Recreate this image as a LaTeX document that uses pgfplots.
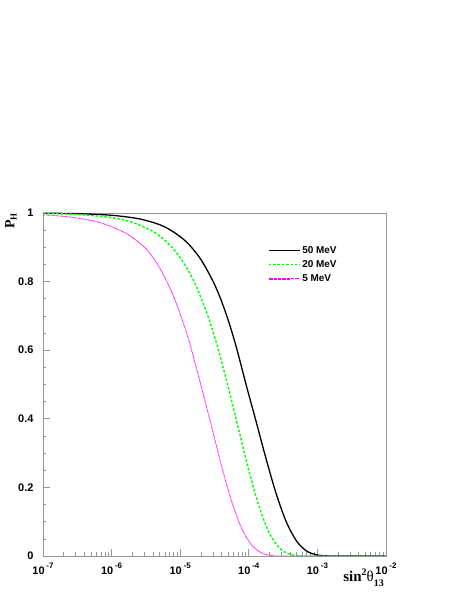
\documentclass[border=0pt]{standalone}
\usepackage{pgfplots}
\pgfplotsset{compat=1.18}
\usepackage{fontspec}
\setmainfont{Liberation Sans}
\newfontfamily\timesf{Liberation Serif}
\definecolor{rootgreen}{RGB}{0,255,0}
\definecolor{rootmagenta}{RGB}{255,0,255}
\definecolor{framegray}{RGB}{150,150,150}
\newcommand{\dec}[1]{\textbf{10}\,\raisebox{1.1ex}{\fontsize{8}{9}\selectfont\textbf{#1}}}
\begin{document}
\begin{tikzpicture}
\path[use as bounding box] (-43bp,-43bp) rectangle (420bp,556bp);
\begin{axis}[
  name=ax,
  scale only axis,
  width=343bp, height=343bp,
  xmode=log,
  xmin=1e-7, xmax=1e-2, ymin=0, ymax=1,
  xtick={1e-7,1e-6,1e-5,1e-4,1e-3,1e-2},
  xticklabels={\dec{-7},\dec{-6},\dec{-5},\dec{-4},\dec{-3},\dec{-2}},
  ytick={0,0.2,0.4,0.6,0.8,1},
  yticklabels={\textbf{0},\textbf{0.2},\textbf{0.4},\textbf{0.6},\textbf{0.8},\textbf{1}},
  minor y tick num=3,
  tick pos=left,
  tick align=inside,
  major tick length=7bp, minor tick length=3.5bp,
  every tick/.style={framegray, line width=0.6pt},
  axis line style={framegray, line width=0.8pt},
  ticklabel style={font=\fontsize{11}{13}\selectfont},
  xticklabel style={yshift=-3bp},
  yticklabel style={xshift=-6bp},
  legend style={draw=none, fill=none, at={(rel axis cs:0.655,0.9095)}, anchor=north west,
    font=\fontsize{10}{12}\selectfont\bfseries, inner sep=0pt, row sep=1.8bp},
  legend cell align=left,
  legend image code/.code={\draw[#1, line width=1.5pt] (0bp,0bp) -- (22bp,0bp); \path (0bp,0bp) -- (31bp,0bp);},
]
% 50 MeV
\addplot[black, line width=1.3pt, smooth, tension=0.5] coordinates {
  (1e-7,0.9994) (3.162e-7,0.998) (1e-6,0.9934) (2.512e-6,0.983) (5.012e-6,0.966)
  (7.943e-6,0.945) (1.259e-5,0.914) (1.995e-5,0.865) (3.162e-5,0.792) (4.467e-5,0.717)
  (6.310e-5,0.622) (9.120e-5,0.500) (1.259e-4,0.397) (1.778e-4,0.285) (2.512e-4,0.181)
  (3.548e-4,0.098) (5.012e-4,0.0424) (7.079e-4,0.0136) (1e-3,0.0029) (1.413e-3,0.0004)
  (1.995e-3,0) (1e-2,0)
};
\addlegendentry{50 MeV}
% 20 MeV
\addplot[rootgreen, line width=1.4pt, dash pattern=on 2.6pt off 1.8pt, smooth, tension=0.5] coordinates {
  (1e-7,0.9987) (3.162e-7,0.9958) (1e-6,0.9865) (1.995e-6,0.973) (3.981e-6,0.9465)
  (6.310e-6,0.916) (1e-5,0.870) (1.585e-5,0.801) (2.512e-5,0.702) (3.548e-5,0.606)
  (4.898e-5,0.500) (7.079e-5,0.371) (1e-4,0.250) (1.413e-4,0.144) (1.995e-4,0.0667)
  (2.818e-4,0.0227) (3.981e-4,0.0050) (5.623e-4,0.0006) (7.943e-4,0) (1e-2,0)
};
\addlegendentry{20 MeV}
% 5 MeV
\addplot[rootmagenta, line width=0.9pt, dash pattern=on 0.7pt off 0.6pt, smooth, tension=0.5] coordinates {
  (1e-7,0.9948) (2.512e-7,0.988) (6.310e-7,0.9737) (1.585e-6,0.942) (3.162e-6,0.896)
  (5.012e-6,0.840) (7.943e-6,0.759) (1.259e-5,0.646) (1.995e-5,0.500) (2.818e-5,0.383)
  (3.981e-5,0.265) (5.623e-5,0.159) (7.943e-5,0.0788) (1.122e-4,0.0297) (1.585e-4,0.0077)
  (2.239e-4,0.0012) (3.162e-4,0) (1e-2,0)
};
\addlegendentry{5 MeV}
\end{axis}
\node[rotate=90, anchor=center, font=\fontsize{14}{16}\selectfont\timesf\bfseries]
  at ([xshift=-32bp, yshift=-8bp]ax.north west) {P\raisebox{-0.35ex}{\fontsize{9}{10}\selectfont H}};
\node[anchor=north east, inner sep=0pt, font=\fontsize{15}{17}\selectfont\timesf]
  at ([xshift=-2bp, yshift=-13bp]ax.south east)
  {\textbf{sin}\raisebox{0.9ex}{\fontsize{10}{11}\selectfont\textbf{2}}θ\raisebox{-0.6ex}{\fontsize{10}{11}\selectfont\textbf{13}}};
\end{tikzpicture}
\end{document}
